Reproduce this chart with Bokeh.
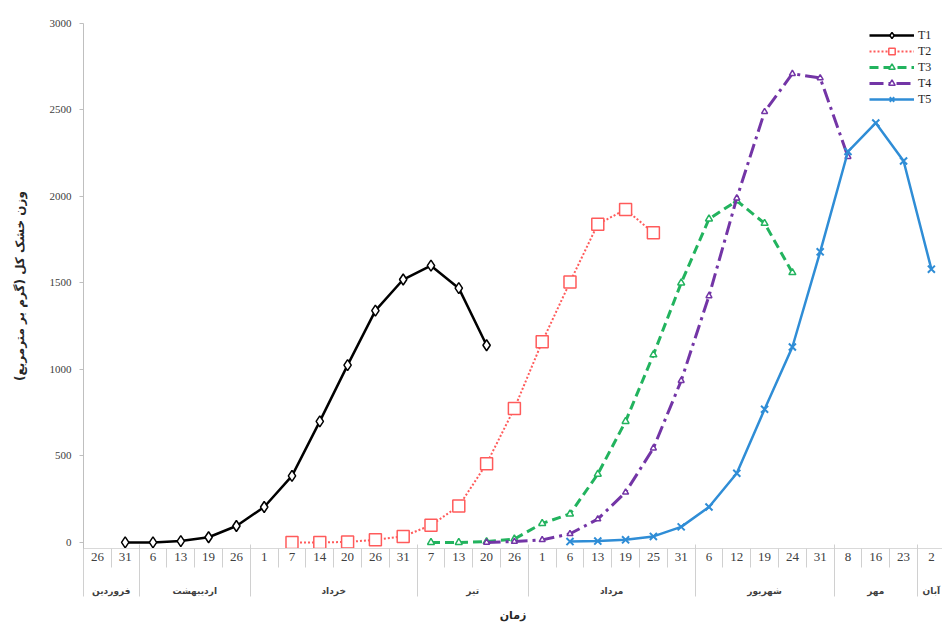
from bokeh.plotting import figure
from bokeh.models import (Range1d, LinearAxis, FixedTicker, Legend, LegendItem,
                          CustomJSTickFormatter, ColumnDataSource)
from bokeh.embed import file_html
from bokeh.resources import INLINE

# ---- data ----
day_labels = ["26", "31", "6", "13", "19", "26", "1", "7", "14", "20", "26", "31",
              "7", "13", "20", "26", "1", "6", "13", "19", "25", "31",
              "6", "12", "19", "24", "31", "8", "16", "23", "2"]
month_names = ["فروردین", "اردیبهشت", "خرداد", "تیر", "مرداد", "شهریور", "مهر", "آبان"]
month_days = [2, 4, 6, 4, 6, 5, 3, 1]

series_names = ["T1", "T2", "T3", "T4", "T5"]
series_start = [1, 7, 12, 14, 17]
t1 = [0, 0, 8, 30, 95, 205, 385, 700, 1025, 1340, 1520, 1600, 1470, 1140]
t2 = [0, 0, 3, 15, 35, 100, 210, 455, 775, 1160, 1505, 1840, 1925, 1790]
t3 = [0, 0, 5, 20, 110, 165, 395, 700, 1085, 1500, 1870, 1975, 1845, 1560]
t4 = [0, 5, 15, 50, 135, 290, 545, 935, 1425, 1990, 2490, 2710, 2685, 2230]
t5 = [5, 8, 15, 35, 90, 205, 400, 770, 1130, 1680, 2260, 2425, 2205, 1580]
series_values = [t1, t2, t3, t4, t5]

y_ticks = [0, 500, 1000, 1500, 2000, 2500, 3000]
y_title = "وزن خشک کل (گرم بر مترمربع)"
x_title = "زمان"

# ---- styles ----
colors = ["#000000", "#FF5B5B", "#22B35E", "#7335A6", "#2F8DD6"]
dashes = ["solid", "2 2", "9 5", "14 5 3 5", "solid"]
widths = [2.5, 2, 3, 3, 2.5]
markers = ["diamond", "square", "triangle", "triangle", "x"]
msizes = [11, 12, 7, 6, 10]
mfills = ["white", "white", "white", "white", None]

SERIF = "Liberation Serif"
ARABIC = "DejaVu Sans"

n = len(day_labels)
p = figure(width=942, height=632, output_backend="svg", toolbar_location=None,
           x_range=Range1d(-0.5, n - 0.6), y_range=Range1d(-35, 3000),
           min_border_left=83, min_border_top=23, min_border_right=0,
           min_border_bottom=84, x_axis_type=None)
p.background_fill_color = "white"
p.border_fill_color = "white"
p.outline_line_color = None

# y axis
ya = p.yaxis[0]
ya.ticker = FixedTicker(ticks=y_ticks, minor_ticks=[])
ya.major_label_text_font = SERIF
ya.major_label_text_font_size = "11px"
ya.major_label_text_color = "#404040"
ya.major_tick_out = 4
ya.major_tick_in = 0
ya.major_tick_line_color = "#BFBFBF"
ya.axis_line_color = "#BFBFBF"
ya.major_label_standoff = 8
ya.axis_label = y_title
ya.axis_label_text_font = ARABIC
ya.axis_label_text_font_size = "12px"
ya.axis_label_text_font_style = "bold"
ya.axis_label_text_color = "#262626"
ya.axis_label_standoff = 20

p.xgrid.visible = False
p.ygrid.ticker = FixedTicker(ticks=[y_ticks[-1]], minor_ticks=[])
p.ygrid.grid_line_color = "#BFBFBF"

# day axis (first level)
day_ticks = list(range(n))
day_bounds = [i - 0.5 for i in range(n + 1)]
day_axis = LinearAxis(
    ticker=FixedTicker(ticks=day_ticks, minor_ticks=day_bounds),
    formatter=CustomJSTickFormatter(args=dict(labels=day_labels),
                                    code="const i = Math.round(tick); return labels[i] || '';"),
)
day_axis.major_tick_out = 0
day_axis.major_tick_in = 0
day_axis.minor_tick_out = 19
day_axis.minor_tick_in = 0
day_axis.minor_tick_line_color = "#D0D0D0"
day_axis.axis_line_color = "#D9D9D9"
day_axis.major_label_text_font = SERIF
day_axis.major_label_text_font_size = "13px"
day_axis.major_label_text_color = "#404040"
day_axis.major_label_standoff = -15
p.add_layout(day_axis, "below")

# month axis (second level)
m_centers = []
m_bounds = [-0.5]
pos = 0
for k in month_days:
    m_centers.append(pos + (k - 1) / 2)
    pos += k
    m_bounds.append(pos - 0.5)
month_axis = LinearAxis(
    ticker=FixedTicker(ticks=m_centers, minor_ticks=m_bounds),
    formatter=CustomJSTickFormatter(
        args=dict(centers=m_centers, names=month_names),
        code="for (let i = 0; i < centers.length; i++) { if (Math.abs(centers[i] - tick) < 0.01) return names[i]; } return '';"),
)
month_axis.major_tick_out = 0
month_axis.major_tick_in = 0
month_axis.minor_tick_in = 19
month_axis.minor_tick_out = 33
month_axis.minor_tick_line_color = "#D0D0D0"
month_axis.axis_line_color = None
month_axis.major_label_text_font = ARABIC
month_axis.major_label_text_font_size = "9px"
month_axis.major_label_text_font_style = "bold"
month_axis.major_label_text_color = "#404040"
month_axis.major_label_standoff = -11
month_axis.axis_label = x_title
month_axis.axis_label_text_font = ARABIC
month_axis.axis_label_text_font_size = "11px"
month_axis.axis_label_text_font_style = "bold"
month_axis.axis_label_text_color = "#262626"
month_axis.axis_label_standoff = 10
p.add_layout(month_axis, "below")

# series
items = []
for name, start, vals, c, d, w, m, ms, mf in zip(series_names, series_start, series_values,
                                                 colors, dashes, widths, markers, msizes, mfills):
    src = ColumnDataSource(dict(x=list(range(start, start + len(vals))), y=vals))
    ln = p.line("x", "y", source=src, line_color=c, line_width=w, line_dash=d)
    if mf is None:
        sc = p.scatter("x", "y", source=src, marker=m, size=ms, line_color=c, line_width=2)
    else:
        sc = p.scatter("x", "y", source=src, marker=m, size=ms, line_color=c, line_width=1.5,
                       fill_color=mf)
    items.append(LegendItem(label=name, renderers=[ln, sc]))

legend = Legend(items=items, location="top_right")
legend.label_text_font = SERIF
legend.label_text_font_size = "12px"
legend.label_text_color = "#262626"
legend.glyph_width = 45
legend.glyph_height = 16
legend.label_height = 16
legend.spacing = 0
legend.padding = 0
legend.margin = 4
legend.label_standoff = 4
legend.background_fill_alpha = 0
legend.border_line_color = None
p.add_layout(legend)

open("out.html", "w").write(file_html(p, INLINE))
